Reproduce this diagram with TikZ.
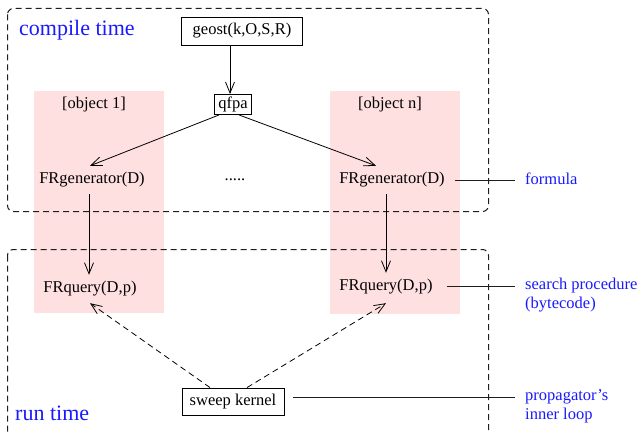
\documentclass[tikz,border=0pt]{standalone}
\usepackage{fontspec}
\setmainfont{Liberation Serif}
\usetikzlibrary{arrows.meta}
\definecolor{objpink}{RGB}{255,224,224}
\definecolor{labelblue}{RGB}{25,25,255}
\definecolor{zonegray}{RGB}{30,30,30}
\begin{document}
\begin{tikzpicture}[x=1pt,y=-1pt,
  every node/.style={font=\fontsize{16.5}{19}\selectfont, inner sep=0pt},
  box/.style={draw, line width=0.9pt, inner sep=0pt},
  fn/.style={inner xsep=0pt, inner ysep=6.5pt},
  note/.style={text=labelblue, align=left, anchor=west},
  phase/.style={text=labelblue, anchor=west, font=\fontsize{22}{26}\selectfont},
  zone/.style={draw=zonegray, line width=1pt, dash pattern=on 6pt off 4pt, rounded corners=6pt},
  arr/.style={line width=0.8pt, -{Straight Barb[length=11pt,width=9pt,line width=0.8pt]}},
  darr/.style={arr, dash pattern=on 6pt off 4pt},
  link/.style={draw=zonegray, line width=1pt}
]
\useasboundingbox (0,0) rectangle (639,433);
\clip (0,0) rectangle (639,433);

% object columns
\fill[objpink] (34,91) rectangle (164,313);
\fill[objpink] (330,91) rectangle (460,314);

% compile-time and run-time zones
\draw[zone] (7.5,8.5) rectangle (488.5,211.5);
\draw[zone] (7.5,249.5) rectangle (488.5,460);

\node[phase] (ct) at (19,30) {compile time};
\node[phase] (rt) at (15,413) {run time};

% pipeline nodes
\node[box, minimum width=121pt, minimum height=28pt] (geost) at (242,31) {geost(k,O,S,R)};
\node[box, inner xsep=3.5pt, inner ysep=2pt, minimum height=20pt] (qfpa) at (233,104.5) {qfpa};
\node (obj1) at (94,105) {[object 1]};
\node (objn) at (390,105) {[object n]};
\node[fn] (gen1) at (92,180) {FRgenerator(D)};
\node[fn] (genn) at (392,180) {FRgenerator(D)};
\node (dots) at (235,180) {.....};
\node[fn] (q1) at (90,289) {FRquery(D,p)};
\node[fn] (qn) at (386,287) {FRquery(D,p)};
\node[box, minimum width=102pt, minimum height=27pt] (sweep) at (233,401.5) {sweep kernel};

% annotations
\node[note] (flab) at (525,179) {formula};
\node[note] (slab) at (525,295.5) {search procedure\\(bytecode)};
\node[note] (plab) at (525,406.5) {propagator's\\inner loop};

% arrows
\draw[arr] ([xshift=-3pt]qfpa.north |- geost.south) -- ([xshift=-3pt]qfpa.north);
\draw[arr] ([xshift=-14pt]qfpa.south) -- ([xshift=-2pt]gen1.north);
\draw[arr] ([xshift=6pt]qfpa.south) -- ([xshift=-16pt]genn.north);
\draw[arr] ([xshift=-3pt]gen1.south) -- ([xshift=-1pt]q1.north);
\draw[arr] ([xshift=-6pt]genn.south) -- (qn.north);
\draw[darr] ([xshift=-23pt]sweep.north) -- (q1.south);
\draw[darr] ([xshift=14pt]sweep.north) -- ([yshift=-2pt]qn.south);

% annotation leaders
\draw[link, shorten <=10pt, shorten >=10pt] (genn.east) -- (genn.east -| flab.west);
\draw[link, shorten <=14pt, shorten >=10pt] ([yshift=1pt]qn.east) -- ([yshift=1pt]qn.east -| slab.west);
\draw[link, shorten <=9pt, shorten >=10pt] ([yshift=4.5pt]sweep.east) -- ([yshift=4.5pt]sweep.east -| plab.west);
\end{tikzpicture}
\end{document}
